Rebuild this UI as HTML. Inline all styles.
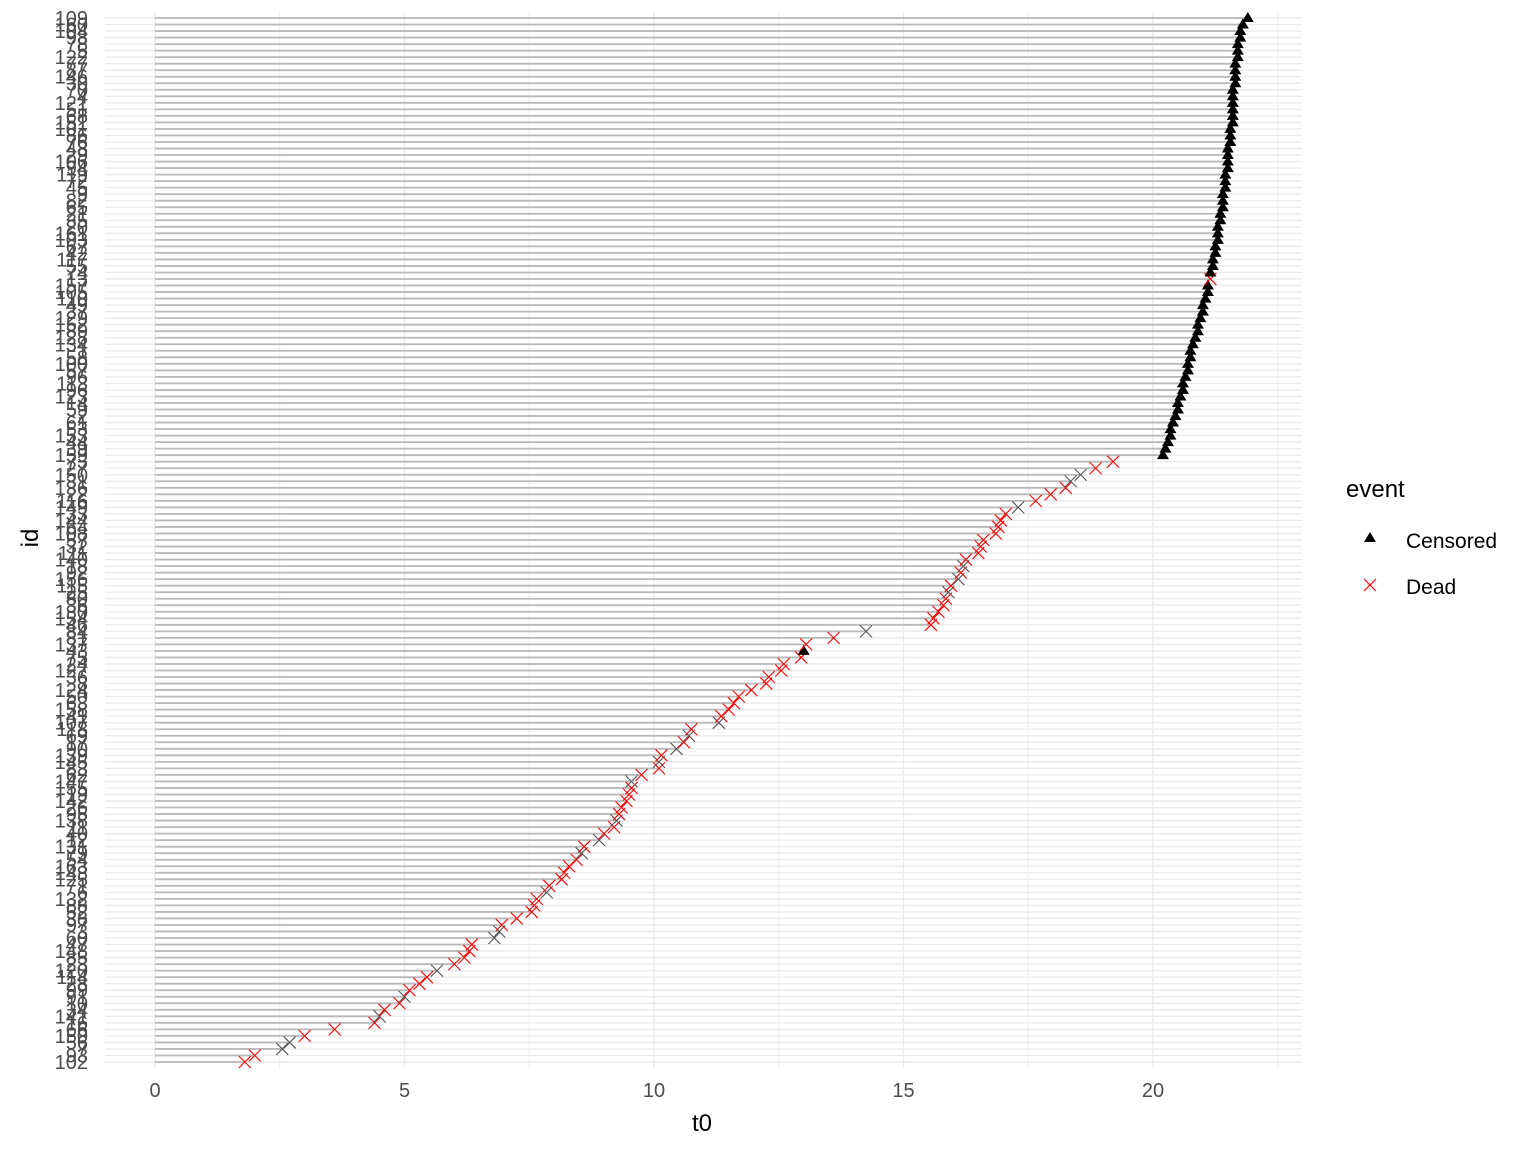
<!DOCTYPE html>
<html><head><meta charset="utf-8"><style>
body{margin:0;background:#fff;}
svg{display:block;font-family:"Liberation Sans",sans-serif;}
</style></head><body>
<svg id="chart" width="1536" height="1152">
<rect width="1536" height="1152" fill="#fff"/>
<g id="grid"></g>
<g id="segs"></g>
<g id="marks"></g>
<g id="ylab" font-size="20" fill="#4d4d4d" text-anchor="end"></g>
<g id="xlab" font-size="20" fill="#4d4d4d" text-anchor="middle"></g>
<text x="702" y="1131" font-size="24" text-anchor="middle" fill="#000">t0</text>
<text transform="translate(38,538) rotate(-90)" font-size="24" text-anchor="middle" fill="#000">id</text>
<g>
<text x="1346" y="497" font-size="24" fill="#000">event</text>
<g><polygon points="1370,532 1376,542 1364,542" fill="#000"/><text x="1406" y="548" font-size="21" fill="#000">Censored</text></g>
<g><path d="M1364,579 L1376,591 M1376,579 L1364,591" stroke="#f00" stroke-width="1.2"/><text x="1406" y="594" font-size="21" fill="#000">Dead</text></g>
</g>
</svg>
<script>
// times, bottom row first
const times = [1.8,2.0,2.55,2.7,3.0,3.6,4.4,4.5,4.6,4.9,
5.0,5.1,5.3,5.45,5.65,6.0,6.2,6.3,6.35,6.8,
6.9,6.95,7.25,7.55,7.6,7.65,7.85,7.9,8.15,8.2,
8.3,8.45,8.55,8.6,8.9,9.0,9.2,9.25,9.3,9.35,
9.45,9.5,9.55,9.55,9.75,10.1,10.1,10.15,10.45,10.6,
10.7,10.75,11.3,11.35,11.5,11.6,11.7,11.95,12.25,12.3,
12.55,12.6,12.95,13.0,13.05,13.6,14.25,15.55,15.6,15.7,
15.8,15.85,15.9,15.95,16.1,16.15,16.2,16.25,16.5,16.55,
16.6,16.85,16.9,16.95,17.05,17.3,17.65,17.95,18.25,18.35,
18.55,18.85,19.2,
20.2,20.25,20.3,20.35,20.35,20.4,20.45,20.5,20.5,20.55,
20.6,20.6,20.65,20.7,20.7,20.75,20.75,20.8,20.85,20.9,
20.9,20.95,21.0,21.0,21.05,21.1,21.1,21.15,21.15,21.2,
21.2,21.25,21.25,21.3,21.3,21.3,21.35,21.35,21.4,21.4,
21.4,21.45,21.45,21.45,21.5,21.5,21.5,21.5,21.55,21.55,
21.55,21.6,21.6,21.6,21.6,21.6,21.6,21.65,21.65,21.65,
21.65,21.7,21.7,21.7,21.75,21.75,21.8,21.9];
// event codes: D=dead (red), X=dead overplotted (gray), C=censored
const events = "DDXXDDDXDD XDDDXDDDDX XDDDDDXDDD DDXDXDDXDD DDDXDDXDXD XDXDDDDDDD DDDCDDXDDD DDXDXDXDDD DDDDDXDDDX XDD".replace(/ /g,'').split('')
  .concat("CCCCCCCCCCCCCCCCCCCCCCCCCCCDCCCCCCCCCCCCCCCCCCCCCCCCCCCCCCCCCCCCCCCC".split(''));
const ids = ["102","93","7","56","150","66","16","141","34","10","91","99","28","114","120","23","85","148","47","60","3","97","38","52","88","132","6","71","125","143","163","54","79","131","12","40","11","138","95","26","142","19","155","147","62","83","145","139","90","17","69","118","107","41","158","63","50","124","8","36","127","24","75","43","137","81","84","46","154","130","36","80","25","115","156","92","18","140","111","32","57","108","64","144","33","149","116","22","136","31","150","27","73","159","39","44","153","53","61","2","59","14","123","96","113","96","57","100","58","1","134","128","89","152","129","37","49","110","105","157","13","74","55","117","42","67","103","161","20","35","21","65","82","9","45","72","119","94","106","29","48","76","86","101","151","68","51","121","4","70","30","146","87","77","122","5","78","98","104","160","109","112","135","15"];
const xTicks = [0,5,10,15,20];

const NS="http://www.w3.org/2000/svg";
const x0=155, pxPerUnit=(1153-155)/20;
const xs = t => x0 + t*pxPerUnit;
const n = times.length;
const yBottom=1062, yTop=18;
const pitch=(yBottom-yTop)/(n-1);
const ys = i => yBottom - i*pitch;
const L=105, R=1302;
function mk(tag,attrs,parent){const e=document.createElementNS(NS,tag);for(const k in attrs)e.setAttribute(k,attrs[k]);parent.appendChild(e);return e;}
const grid=document.getElementById('grid'),segs=document.getElementById('segs'),marks=document.getElementById('marks'),ylab=document.getElementById('ylab'),xlab=document.getElementById('xlab');
for(let v=0;v<=22.5;v+=2.5){
  const l=mk('line',{x1:xs(v),x2:xs(v),y1:12,y2:1068,stroke:'#ebebeb','stroke-width':v%5===0?1.4:0.8},grid);
  
  
}
for(let i=0;i<n;i++){
  const y=ys(i);
  const g2=mk('line',{x1:L,x2:R,y1:y,y2:y,stroke:'#ebebeb','stroke-width':1.4},grid);
  
  
  const s=mk('line',{x1:xs(0),x2:xs(times[i]),y1:y,y2:y,stroke:'#b8b8b8','stroke-width':1.8},segs);
  
  
  const cx=xs(times[i]), ev=events[i]||'D';
  let m;
  if(ev==='C'){
    m=mk('polygon',{points:`${cx},${y-6} ${cx+6},${y+4} ${cx-6},${y+4}`,fill:'#000'},marks);
    
  } else {
    m=mk('path',{d:`M${cx-6},${y-6}L${cx+6},${y+6}M${cx+6},${y-6}L${cx-6},${y+6}`,stroke:ev==='X'?'#555':'#f00','stroke-width':1.1,fill:'none'},marks);
    
  }
  
  const t=mk('text',{x:88,y:y+7},ylab);
  t.textContent=ids[i]||String(i+1);
  
  
}
xTicks.forEach(v=>{
  const t=mk('text',{x:xs(v),y:1097},xlab);
  t.textContent=v;
  
  
});
</script>
</body></html>
